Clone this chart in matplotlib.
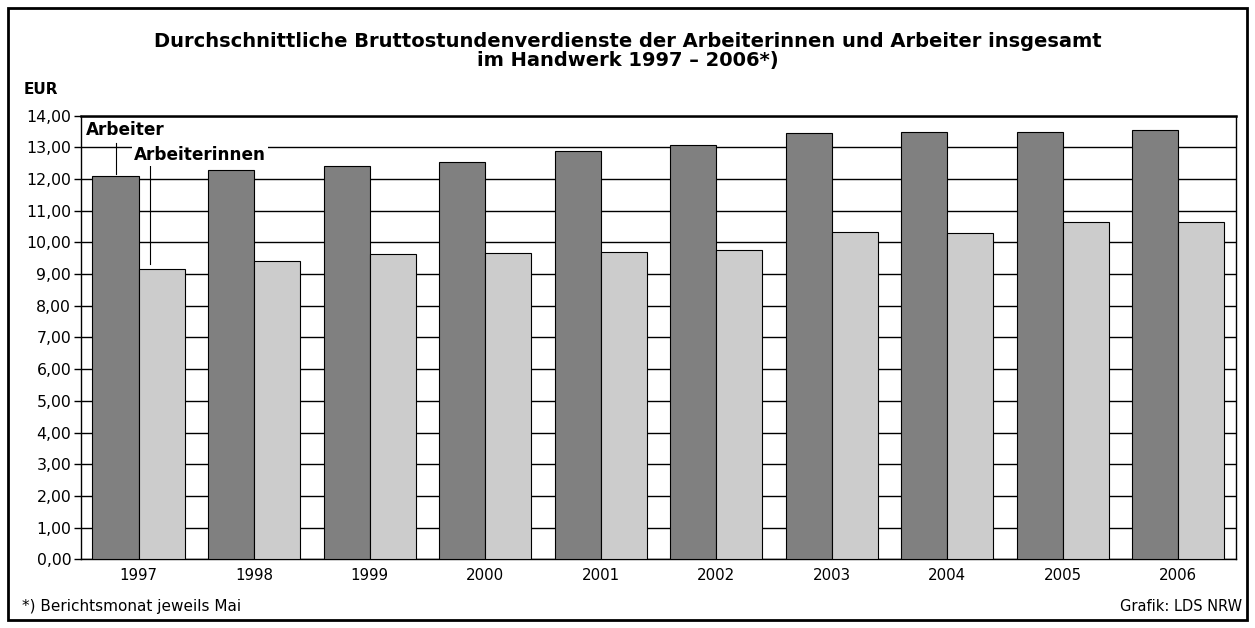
import numpy as np
import matplotlib.pyplot as plt
from matplotlib.patches import Rectangle

plt.rcParams['font.family'] = ['DejaVu Sans']

# data
years = ['1997', '1998', '1999', '2000', '2001', '2002', '2003', '2004', '2005', '2006']
arbeiter = [12.10, 12.27, 12.40, 12.55, 12.87, 13.06, 13.44, 13.48, 13.48, 13.54]
arbeiterinnen = [9.16, 9.42, 9.63, 9.66, 9.71, 9.77, 10.34, 10.29, 10.65, 10.65]
y_ticks = np.arange(0, 15, 1)

title = ("Durchschnittliche Bruttostundenverdienste der Arbeiterinnen und Arbeiter insgesamt\n"
         "im Handwerk 1997 \u2013 2006*)")

fig = plt.figure(figsize=(12.55, 6.28), dpi=100)
ax = fig.add_axes([0.0645, 0.1094, 0.9204, 0.7064])

x = np.arange(len(years))
w = 0.4
ax.bar(x - w / 2, arbeiter, width=w, color='#808080', edgecolor='black', linewidth=0.8, zorder=3)
ax.bar(x + w / 2, arbeiterinnen, width=w, color='#cccccc', edgecolor='black', linewidth=0.8, zorder=3)

ax.set_xlim(-0.5, len(years) - 0.5)
ax.set_ylim(0, 14)
ax.set_yticks(y_ticks)
ax.set_yticklabels([f"{v:.2f}".replace('.', ',') for v in y_ticks], fontsize=11.3)
ax.set_xticks(x)
ax.set_xticklabels(years, fontsize=10.8)
ax.tick_params(axis='x', length=0, pad=6)
ax.tick_params(axis='y', length=5, width=1, pad=2)
ax.yaxis.grid(True, color='black', linewidth=1, zorder=0)
ax.set_axisbelow(True)
for s in ['left', 'right', 'bottom']:
    ax.spines[s].set_linewidth(1)
ax.spines['top'].set_linewidth(1.8)

# series labels with pointer lines
ax.plot([x[0] - w / 2, x[0] - w / 2], [13.15, arbeiter[0] + 0.05], color='black', lw=0.8, zorder=4)
ax.plot([x[0] + w / 2 - 0.1, x[0] + w / 2 - 0.1], [12.7, arbeiterinnen[0] + 0.15], color='black', lw=0.8, zorder=4)
ax.text(x[0] - 0.455, 13.55, "Arbeiter", fontsize=12.2, fontweight='bold', va='center', ha='left', zorder=5)
ax.text(x[0] - 0.04, 12.75, "Arbeiterinnen", fontsize=12.2, fontweight='bold', va='center', ha='left',
        zorder=5, bbox=dict(facecolor='white', edgecolor='none', pad=1.5))

fig.text(0.5, 0.918, title, fontsize=14, fontweight='bold', ha='center', va='center', linespacing=1.0)
fig.text(0.019, 0.857, "EUR", fontsize=11, fontweight='bold', ha='left', va='center')
fig.text(0.0175, 0.035, "*) Berichtsmonat jeweils Mai", fontsize=11, ha='left', va='center')
fig.text(0.9895, 0.035, "Grafik: LDS NRW", fontsize=10.5, ha='right', va='center')

fig.patches.append(Rectangle((0.0065, 0.0127), 0.987, 0.975, transform=fig.transFigure,
                             fill=False, edgecolor='black', linewidth=2))

fig.savefig('out.png', dpi=100)
